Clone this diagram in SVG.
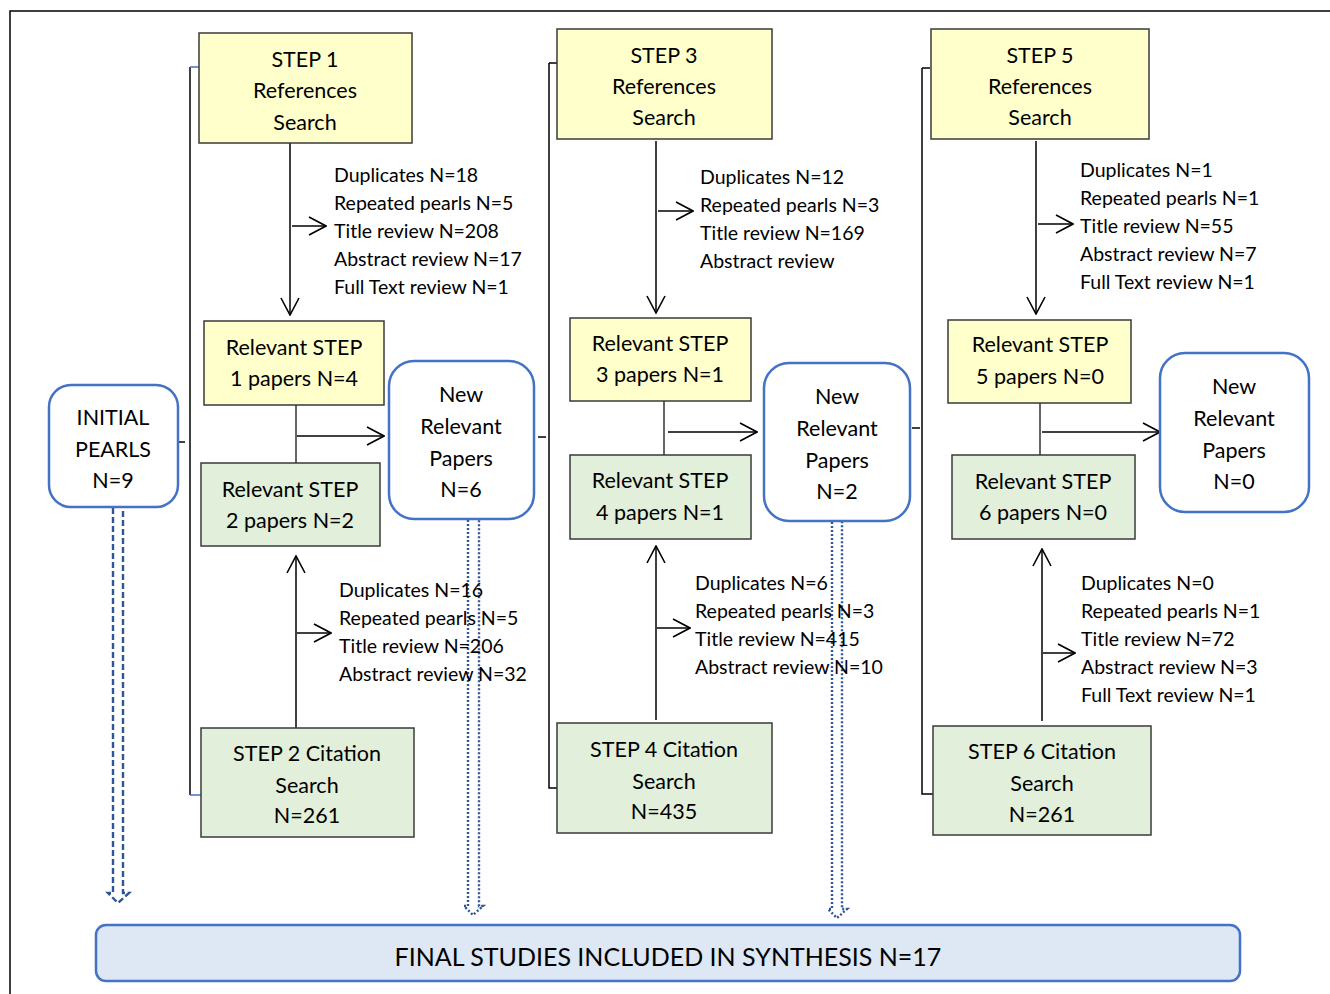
<svg xmlns="http://www.w3.org/2000/svg" width="1330" height="994" viewBox="0 0 1330 994">
<defs>
<style>
.t{font-family:Lato,"Liberation Sans",sans-serif;fill:#000;}
.b{font-size:21.5px;text-anchor:middle;}
.s{font-size:19.5px;}
.y{fill:#FFFFCC;stroke:#3a3a3a;stroke-width:1.5;}
.g{fill:#E2EFDA;stroke:#3a3a3a;stroke-width:1.5;}
.r{fill:#fff;stroke:#4472C4;stroke-width:2.5;}
.ln{stroke:#000;stroke-width:1.5;fill:none;}
.cn{stroke:#333;stroke-width:1.5;fill:none;}
.bt{stroke:#4472C4;stroke-width:1.5;fill:none;}
.dot{stroke:#2F5597;stroke-width:2.4;fill:none;stroke-dasharray:2,2;}
.dash{stroke:#2F5597;stroke-width:2.4;fill:none;stroke-dasharray:6,3;}
</style>
<marker id="ah" viewBox="0 0 20 20" refX="19" refY="10" markerWidth="20" markerHeight="20" markerUnits="userSpaceOnUse" orient="auto">
<path d="M2,1 L19,10 L2,19" fill="none" stroke="#000" stroke-width="1.6"/>
</marker>
</defs>
<rect width="1330" height="994" fill="#fff"/>
<g id="frame">
<path class="ln" d="M10,994 V11 H1330"/>
</g>
<g id="connectors">
<path class="ln" d="M190,67 V795"/>
<path class="bt" d="M190,67 H199 M190,795 H201"/>
<path class="ln" d="M178,442 H185"/>
<path class="ln" d="M549,63 V788 H557 M549,63 H557"/>
<path class="ln" d="M538,437 H546"/>
<path class="ln" d="M922,68 V794 H933 M922,68 H930"/>
<path class="ln" d="M912,428 H920"/>
<path class="ln" d="M290,143 V315" marker-end="url(#ah)"/>
<path class="ln" d="M292,226 H326" marker-end="url(#ah)"/>
<path class="cn" d="M296,405 V463"/>
<path class="ln" d="M297,436 H384" marker-end="url(#ah)"/>
<path class="ln" d="M296,728 V556" marker-end="url(#ah)"/>
<path class="ln" d="M297,633 H331" marker-end="url(#ah)"/>
<path class="ln" d="M656,141 V313" marker-end="url(#ah)"/>
<path class="ln" d="M658,211 H693" marker-end="url(#ah)"/>
<path class="cn" d="M664,401 V455"/>
<path class="ln" d="M668,432 H757" marker-end="url(#ah)"/>
<path class="ln" d="M656,720 V546" marker-end="url(#ah)"/>
<path class="ln" d="M657,628 H690" marker-end="url(#ah)"/>
<path class="ln" d="M1036,141 V314" marker-end="url(#ah)"/>
<path class="ln" d="M1038,224 H1073" marker-end="url(#ah)"/>
<path class="cn" d="M1040,403 V455"/>
<path class="ln" d="M1042,432 H1160" marker-end="url(#ah)"/>
<path class="ln" d="M1042,721 V549" marker-end="url(#ah)"/>
<path class="ln" d="M1043,653 H1075" marker-end="url(#ah)"/>
<path class="dash" d="M113,508 V893 H108 L118,903 L129,893 H123 V508"/>
<path class="dot" d="M468,520 V906 H464 L473,915 L483,906 H479 V520"/>
<path class="dot" d="M832,522 V909 H828 L837,918 L847,909 H842 V522"/>
</g>
<g id="initial">
<rect class="r" x="49" y="385" width="129" height="122" rx="22"/>
<text class="t b" x="113" y="425">INITIAL</text>
<text class="t b" x="113" y="457">PEARLS</text>
<text class="t b" x="113" y="488">N=9</text>
</g>
<g id="step1">
<rect class="y" x="199" y="33" width="213" height="110"/>
<text class="t b" x="305" y="67">STEP 1</text>
<text class="t b" x="305" y="98">References</text>
<text class="t b" x="305" y="130">Search</text>
</g>
<g id="step1-text">
<text class="t s" x="334" y="182">Duplicates N=18</text>
<text class="t s" x="334" y="210">Repeated pearls N=5</text>
<text class="t s" x="334" y="238">Title review N=208</text>
<text class="t s" x="334" y="266">Abstract review N=17</text>
<text class="t s" x="334" y="294">Full Text review N=1</text>
</g>
<g id="rel1">
<rect class="y" x="204" y="321" width="180" height="84"/>
<text class="t b" x="294" y="355">Relevant STEP</text>
<text class="t b" x="294" y="386">1 papers N=4</text>
</g>
<g id="rel2">
<rect class="g" x="201" y="463" width="179" height="83"/>
<text class="t b" x="290" y="497">Relevant STEP</text>
<text class="t b" x="290" y="528">2 papers N=2</text>
</g>
<g id="new1">
<rect class="r" x="389" y="361" width="145" height="158" rx="25"/>
<text class="t b" x="461" y="402">New</text>
<text class="t b" x="461" y="434">Relevant</text>
<text class="t b" x="461" y="466">Papers</text>
<text class="t b" x="461" y="497">N=6</text>
</g>
<g id="step2-text">
<text class="t s" x="339" y="597">Duplicates N=16</text>
<text class="t s" x="339" y="625">Repeated pearls N=5</text>
<text class="t s" x="339" y="653">Title review N=206</text>
<text class="t s" x="339" y="681">Abstract review N=32</text>
</g>
<g id="step2">
<rect class="g" x="201" y="728" width="213" height="109"/>
<text class="t b" x="307" y="761">STEP 2 Citation</text>
<text class="t b" x="307" y="793">Search</text>
<text class="t b" x="307" y="823">N=261</text>
</g>
<g id="step3">
<rect class="y" x="557" y="29" width="215" height="110"/>
<text class="t b" x="664" y="63">STEP 3</text>
<text class="t b" x="664" y="94">References</text>
<text class="t b" x="664" y="125">Search</text>
</g>
<g id="step3-text">
<text class="t s" x="700" y="184">Duplicates N=12</text>
<text class="t s" x="700" y="212">Repeated pearls N=3</text>
<text class="t s" x="700" y="240">Title review N=169</text>
<text class="t s" x="700" y="268">Abstract review</text>
</g>
<g id="rel3">
<rect class="y" x="570" y="318" width="181" height="83"/>
<text class="t b" x="660" y="351">Relevant STEP</text>
<text class="t b" x="660" y="382">3 papers N=1</text>
</g>
<g id="rel4">
<rect class="g" x="570" y="455" width="181" height="84"/>
<text class="t b" x="660" y="488">Relevant STEP</text>
<text class="t b" x="660" y="520">4 papers N=1</text>
</g>
<g id="new2">
<rect class="r" x="764" y="363" width="146" height="158" rx="25"/>
<text class="t b" x="837" y="404">New</text>
<text class="t b" x="837" y="436">Relevant</text>
<text class="t b" x="837" y="468">Papers</text>
<text class="t b" x="837" y="499">N=2</text>
</g>
<g id="step4-text">
<text class="t s" x="695" y="590">Duplicates N=6</text>
<text class="t s" x="695" y="618">Repeated pearls N=3</text>
<text class="t s" x="695" y="646">Title review N=415</text>
<text class="t s" x="695" y="674">Abstract review N=10</text>
</g>
<g id="step4">
<rect class="g" x="557" y="723" width="215" height="110"/>
<text class="t b" x="664" y="757">STEP 4 Citation</text>
<text class="t b" x="664" y="789">Search</text>
<text class="t b" x="664" y="819">N=435</text>
</g>
<g id="step5">
<rect class="y" x="931" y="29" width="218" height="110"/>
<text class="t b" x="1040" y="63">STEP 5</text>
<text class="t b" x="1040" y="94">References</text>
<text class="t b" x="1040" y="125">Search</text>
</g>
<g id="step5-text">
<text class="t s" x="1080" y="177">Duplicates N=1</text>
<text class="t s" x="1080" y="205">Repeated pearls N=1</text>
<text class="t s" x="1080" y="233">Title review N=55</text>
<text class="t s" x="1080" y="261">Abstract review N=7</text>
<text class="t s" x="1080" y="289">Full Text review N=1</text>
</g>
<g id="rel5">
<rect class="y" x="948" y="320" width="183" height="83"/>
<text class="t b" x="1040" y="352">Relevant STEP</text>
<text class="t b" x="1040" y="384">5 papers N=0</text>
</g>
<g id="rel6">
<rect class="g" x="952" y="455" width="183" height="84"/>
<text class="t b" x="1043" y="489">Relevant STEP</text>
<text class="t b" x="1043" y="520">6 papers N=0</text>
</g>
<g id="new3">
<rect class="r" x="1160" y="353" width="149" height="159" rx="25"/>
<text class="t b" x="1234" y="394">New</text>
<text class="t b" x="1234" y="426">Relevant</text>
<text class="t b" x="1234" y="458">Papers</text>
<text class="t b" x="1234" y="489">N=0</text>
</g>
<g id="step6-text">
<text class="t s" x="1081" y="590">Duplicates N=0</text>
<text class="t s" x="1081" y="618">Repeated pearls N=1</text>
<text class="t s" x="1081" y="646">Title review N=72</text>
<text class="t s" x="1081" y="674">Abstract review N=3</text>
<text class="t s" x="1081" y="702">Full Text review N=1</text>
</g>
<g id="step6">
<rect class="g" x="933" y="726" width="218" height="109"/>
<text class="t b" x="1042" y="759">STEP 6 Citation</text>
<text class="t b" x="1042" y="791">Search</text>
<text class="t b" x="1042" y="822">N=261</text>
</g>
<g id="final">
<rect x="96" y="925" width="1144" height="56" rx="10" fill="#DEE7F4" stroke="#4472C4" stroke-width="2.5"/>
<text class="t" x="668" y="966" font-size="25" text-anchor="middle">FINAL STUDIES INCLUDED IN SYNTHESIS N=17</text>
</g>
</svg>
